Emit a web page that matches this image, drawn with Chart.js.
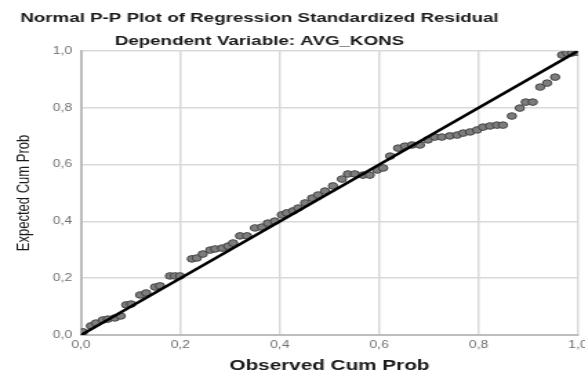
<!DOCTYPE html>
<html lang="id">
<head>
  <meta charset="UTF-8">
  <title>Normal P-P Plot</title>
  <script src="https://cdn.jsdelivr.net/npm/chart.js"></script>
  <style>
    html, body { margin: 0; padding: 0; background: #fff; overflow: hidden; }
    /* the original picture is stretched sideways, so the canvas is too */
    #grafik { display: block; transform: scale(1.38, 1); transform-origin: 0 0; }
  </style>
</head>
<body>
  <canvas id="grafik" width="424" height="379"></canvas>

  <script>
    const judul = 'Normal P-P Plot of Regression Standardized Residual';
    const subJudul = 'Dependent Variable: AVG_KONS';
    const labelX = 'Observed Cum Prob';
    const labelY = 'Expected Cum Prob';

    // observed cum prob (x) dan expected cum prob (y)
    const observed = [
      0.004, 0.020, 0.030, 0.044, 0.054, 0.068, 0.080, 0.091, 0.101, 0.119,
      0.131, 0.149, 0.159, 0.179, 0.189, 0.199, 0.223, 0.233, 0.245, 0.260,
      0.270, 0.284, 0.296, 0.306, 0.320, 0.334, 0.350, 0.364, 0.376, 0.390,
      0.404, 0.414, 0.427, 0.437, 0.451, 0.465, 0.477, 0.491, 0.507, 0.525,
      0.537, 0.551, 0.567, 0.581, 0.596, 0.608, 0.622, 0.638, 0.652, 0.666,
      0.682, 0.698, 0.712, 0.726, 0.742, 0.757, 0.769, 0.783, 0.797, 0.809,
      0.823, 0.837, 0.849, 0.867, 0.883, 0.895, 0.909, 0.924, 0.938, 0.954,
      0.968, 0.978, 0.988, 0.998
    ];
    const expected = [
      0.011, 0.032, 0.042, 0.053, 0.056, 0.060, 0.067, 0.106, 0.109, 0.141,
      0.148, 0.169, 0.173, 0.208, 0.208, 0.208, 0.268, 0.271, 0.285, 0.299,
      0.303, 0.306, 0.313, 0.324, 0.349, 0.349, 0.377, 0.380, 0.394, 0.401,
      0.423, 0.430, 0.437, 0.447, 0.465, 0.482, 0.493, 0.507, 0.525, 0.549,
      0.567, 0.567, 0.563, 0.563, 0.581, 0.588, 0.630, 0.658, 0.665, 0.669,
      0.669, 0.687, 0.697, 0.697, 0.701, 0.704, 0.711, 0.715, 0.722, 0.732,
      0.736, 0.739, 0.739, 0.771, 0.799, 0.820, 0.820, 0.873, 0.887, 0.908,
      0.986, 0.993, 0.993, 0.996
    ];
    // garis referensi diagonal
    const garisX = [0, 1];
    const garisY = [0, 1];
    const tickKoma = v => v.toFixed(1).replace('.', ',');

    // judul digambar sendiri supaya bisa diletakkan di tengah seperti aslinya
    const pluginJudul = {
      id: 'judulSpss',
      afterDraw(chart) {
        const ctx = chart.ctx;
        ctx.save();
        ctx.fillStyle = '#1a1a1a';
        ctx.textAlign = 'center';
        ctx.textBaseline = 'middle';
        ctx.font = 'bold 13.6px "Liberation Sans", Arial, sans-serif';
        ctx.fillText(judul, 188, 18);
        ctx.fillText(subJudul, 188, 41);
        ctx.restore();
      }
    };

    new Chart(document.getElementById('grafik').getContext('2d'), {
      data: {
        datasets: [
          {
            type: 'line',
            data: garisX.map((x, i) => ({ x: x, y: garisY[i] })),
            borderColor: '#000',
            borderWidth: 2.6,
            pointRadius: 0,
            fill: false,
            order: 0
          },
          {
            type: 'scatter',
            data: observed.map((x, i) => ({ x: x, y: expected[i] })),
            backgroundColor: '#7d7d7d',
            borderColor: '#444',
            borderWidth: 1,
            pointRadius: 3.3,
            order: 1
          }
        ]
      },
      options: {
        responsive: false,
        animation: false,
        devicePixelRatio: 1,
        layout: { padding: { left: 0, right: 5.2, top: 51, bottom: 0 } },
        plugins: {
          legend: { display: false },
          tooltip: { enabled: false },
          title: { display: false }
        },
        scales: {
          x: {
            type: 'linear',
            min: 0, max: 1,
            grid: { color: '#d9d9d9', lineWidth: 1.5, drawTicks: false },
            border: { color: '#bdbdbd', width: 2 },
            ticks: {
              stepSize: 0.2, padding: 4, color: '#6e6e6e',
              font: { family: '"Liberation Sans", Arial', size: 10 },
              callback: tickKoma, maxRotation: 0
            },
            title: {
              display: true, text: labelX, color: '#1a1a1a',
              font: { family: '"Liberation Sans", Arial', size: 15, weight: 'bold' },
              padding: { top: 0, bottom: 4 }
            },
            afterFit(s) { s.height = 44; s.paddingLeft = 0; s.paddingRight = 0; }
          },
          y: {
            type: 'linear',
            min: 0, max: 1,
            grid: { color: '#d9d9d9', lineWidth: 1.5, drawTicks: false },
            border: { color: '#bdbdbd', width: 2 },
            ticks: {
              stepSize: 0.2, padding: 6.5, color: '#6e6e6e',
              font: { family: '"Liberation Sans", Arial', size: 10 },
              callback: tickKoma
            },
            title: {
              display: true, text: labelY, color: '#1a1a1a',
              font: { family: '"Liberation Sans", Arial', size: 13 },
              padding: { top: 10, bottom: 0 }
            },
            afterFit(s) { s.width = 58.7; s.paddingTop = 0; s.paddingBottom = 0; }
          }
        }
      },
      plugins: [pluginJudul]
    });
  </script>
</body>
</html>
